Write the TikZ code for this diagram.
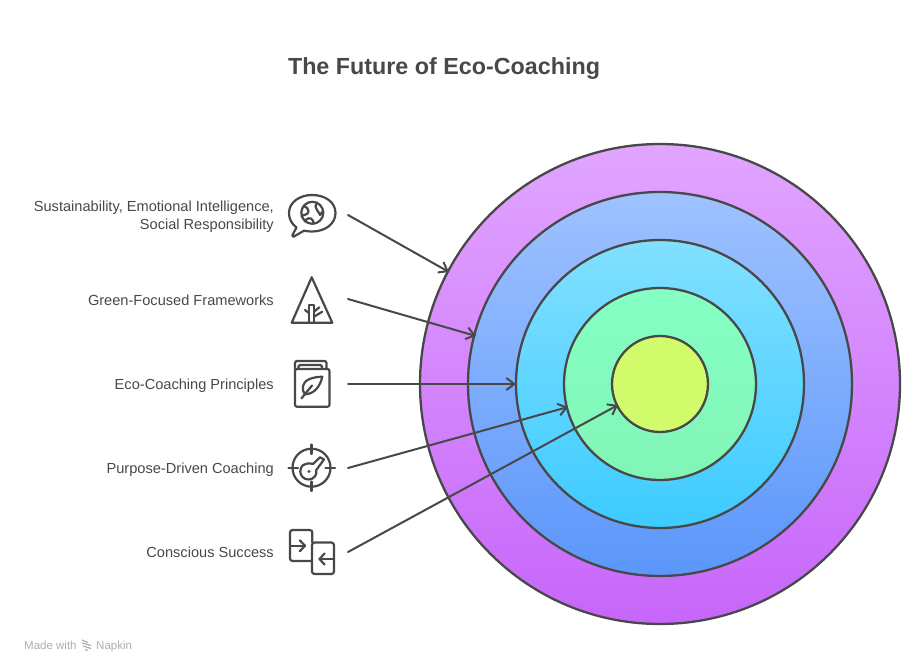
\documentclass[tikz,border=0pt]{standalone}
\usepackage{fontspec}
\setmainfont{Liberation Sans}
\usetikzlibrary{arrows.meta,positioning,calc}

\definecolor{inkc}{HTML}{484848}
\definecolor{footc}{HTML}{ADADAD}
\definecolor{ringAtop}{HTML}{E1A5FF}
\definecolor{ringAbot}{HTML}{C766FA}
\definecolor{ringBtop}{HTML}{9FC2FF}
\definecolor{ringBbot}{HTML}{5B96FB}
\definecolor{ringCtop}{HTML}{82E0FF}
\definecolor{ringCbot}{HTML}{3DCBFF}
\definecolor{ringDtop}{HTML}{85FFC4}
\definecolor{ringDbot}{HTML}{82F5B6}
\definecolor{ringE}{HTML}{D2FB6C}
\tikzset{
  ring/.style={draw=inkc,line width=2.3pt},
  lab/.style={anchor=base east,align=right,text=inkc,font=\fontsize{14.6}{18}\selectfont,inner sep=0pt},
  icon/.style={draw=inkc,line width=2.2pt,line cap=round,line join=round},
  pointer/.style={draw=inkc,line width=2pt,line cap=round,-{Straight Barb[length=8pt,width=12pt,line width=2pt]}},
  foot/.style={anchor=base west,text=footc,font=\fontsize{11.5}{12}\selectfont,inner sep=0pt}
}

\begin{document}
\begin{tikzpicture}[x=1pt,y=-1pt]
\useasboundingbox (0,0) rectangle (924,672);

\coordinate (C) at (660,384);

\node[text=inkc,font=\fontsize{23.3}{28}\selectfont\bfseries,inner sep=0pt] (title) at (444,69) {The Future of Eco-Coaching};

% rings
\draw[ring,top color=ringAtop,bottom color=ringAbot] (C) circle (240);
\draw[ring,top color=ringBtop,bottom color=ringBbot] (C) circle (192);
\draw[ring,top color=ringCtop,bottom color=ringCbot] (C) circle (144);
\draw[ring,top color=ringDtop,bottom color=ringDbot] (C) circle (96);
\draw[ring,fill=ringE] (C) circle (48);

% labels
\node[lab,anchor=east] (sust) at (274,217) {Sustainability, Emotional Intelligence,\\Social Responsibility};
\node[lab] (green) at (274,305) {Green-Focused Frameworks};
\node[lab] (princ) at (274,389) {Eco-Coaching Principles};
\node[lab] (purp) at (274,473) {Purpose-Driven Coaching};
\node[lab] (consc) at (274,557) {Conscious Success};

% pointers
\coordinate (s1) at (348,215);
\coordinate (e1) at (449,272);
\coordinate (s2) at (348,299);
\coordinate (e2) at (476,336);
\coordinate (s3) at (348,384);
\coordinate (e3) at (516,384);
\coordinate (s4) at (348,468);
\coordinate (e4) at (568,407);
\coordinate (s5) at (348,552);
\coordinate (e5) at (618,405);
\draw[pointer] (s1)--(e1);
\draw[pointer] (s2)--(e2);
\draw[pointer] (s3)--(e3);
\draw[pointer] (s4)--(e4);
\draw[pointer] (s5)--(e5);

% bubble with globe
\draw[icon] (296.5,227.5)..controls (291,223.5) and (289,218)..(289,213)..controls (289,202) and (300,195)..(312,195)..controls (325,195) and (335.5,202)..(335.5,213)..controls (335.5,224) and (325,231.5)..(312,231.5)..controls (309,231.5) and (306.5,231.2)..(304,230.7)--(293.5,236.8)--(292.2,235.6)--cycle;
\draw[icon] (312.3,212.8) circle (11);
\draw[icon] (303.5,206)..controls (306,207) and (308.5,208)..(308.5,211)..controls (308.5,215) and (304,214.5)..(301.5,216);
\draw[icon] (317,202.5)..controls (315,205) and (315,208)..(317,210)..controls (319,212) and (319.5,214.5)..(320,215)..controls (321,214) and (322,212)..(323.3,211);
\draw[icon] (305,221.5)..controls (306,218) and (311,217)..(312.5,220)..controls (313,222) and (314,223)..(314,223.5);

% tree
\draw[icon] (311.7,277.3)--(332.3,322.7)--(291.7,322.7)--cycle;
\draw[icon] (309.3,322.7)--(309.3,305)--(314,305)--(314,322.7);
\draw[icon] (305,310)--(309.3,313.3);
\draw[icon] (314,311.7)--(319.3,307.3);
\draw[icon] (314,316.7)--(322.3,311.7);

% book
\draw[icon,rounded corners=2pt] (295,369)--(295,406.7)--(329.5,406.7)--(329.5,369)--cycle;
\draw[icon,rounded corners=2pt] (295,369)--(295,361)--(326.5,361)--(326.5,369);
\draw[icon,rounded corners=1.5pt] (298.5,369)--(298.5,365)--(322,365)--(322,369);
\draw[icon] (322.3,376.7)..controls (312,377) and (304,380)..(303,386)..controls (302.5,390) and (303.5,393)..(305,394.3)..controls (314,394) and (320,387)..cycle;
\draw[icon] (301.5,398.3)--(312,385.5);

% target with key
\draw[icon] (311.5,467.7) circle (19);
\draw[icon] (311.5,444.5)--(311.5,454);
\draw[icon] (311.5,481.5)--(311.5,491);
\draw[icon] (288.5,467.7)--(298,467.7);
\draw[icon] (325.5,467.7)--(335,467.7);
\draw[icon] (303,465)..controls (306,463.2) and (309.5,463)..(313,464)--(320,457.3)--(324,459.5)--(316.3,470)..controls (317.5,475) and (313.5,479.5)..(308.5,479.5)..controls (303.5,479.5) and (300.3,475.5)..(300.3,471.5)..controls (300.3,469) and (301.3,466.5)..(303,465)--cycle;
\fill[inkc] (309,471.5) circle (1.6);

% two cards
\draw[icon,rounded corners=2.5pt] (312.3,542.3)--(312.3,530)--(290,530)--(290,561)--(312,561);
\draw[icon,rounded corners=2.5pt] (312,542.5)--(334,542.5)--(334,574)--(312,574)--cycle;
\draw[icon] (290,545.7)--(305,545.7);
\draw[icon] (300,540.5)--(305,545.7)--(300,551);
\draw[icon] (334,559)--(319.5,559);
\draw[icon] (324.5,553.5)--(319.5,559)--(324.5,564.5);

% footer
\node[foot] (made) at (24,649) {Made with};
\node[foot] (napkin) at (96,649) {Napkin};
\draw[footc,line width=1.2pt] (82,640)--(88,642.5) (82,643)--(91,645.5) (83,646)--(91,648.5) (85,649.5)--(88,650.5);
\end{tikzpicture}
\end{document}
